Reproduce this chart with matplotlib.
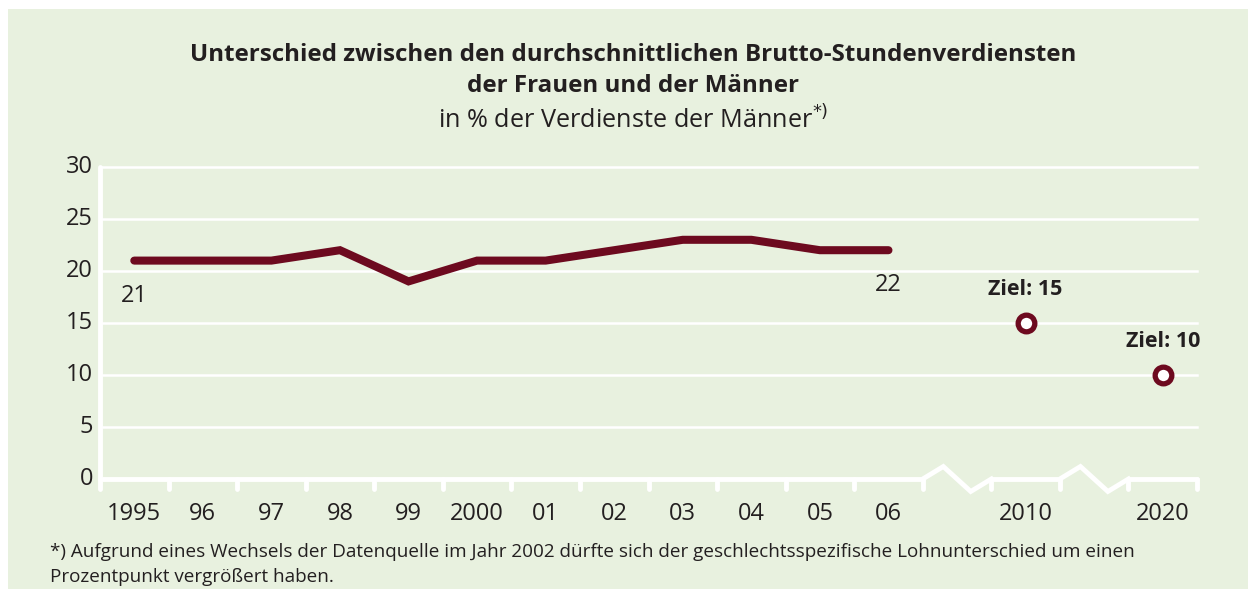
import numpy as np
import matplotlib.pyplot as plt
from matplotlib.patches import Rectangle

# data
years = ["1995", "96", "97", "98", "99", "2000", "01", "02", "03", "04", "05", "06"]
gap = [21, 21, 21, 22, 19, 21, 21, 22, 23, 23, 22, 22]
target_labels = ["2010", "2020"]
target_values = [15, 10]
target_pos = [13, 15]          # slots on the category axis (after the break)

red = "#6d0a1f"
bg = "#e8f1df"
txt = "#231f20"
plt.rcParams['font.family'] = ['Open Sans', 'DejaVu Sans']

fig = plt.figure(figsize=(12.48, 5.89), dpi=100)
fig.patches.append(Rectangle((8 / 1248, 0), 1, 1 - 9 / 589, transform=fig.transFigure,
                             facecolor=bg, edgecolor="none", zorder=-10))

ax = fig.add_axes([100 / 1248, 1 - 479 / 589, 1097 / 1248, 312 / 589])
ax.set_facecolor("none")
ax.set_xlim(-0.5, 15.5)
ax.set_ylim(0, 30)
for s in ax.spines.values():
    s.set_visible(False)
ax.set_xticks([])
ax.set_yticks([])

# gridlines + y axis
for v in range(5, 31, 5):
    ax.plot([-0.5, 15.5], [v, v], color="white", lw=1.8, clip_on=False, zorder=1)
    ax.text(-0.6, v, str(v), ha="right", va="center", fontsize=17, color=txt)
ax.text(-0.6, 0, "0", ha="right", va="center", fontsize=17, color=txt)
ax.plot([-0.5, -0.5], [0, 30], color="white", lw=3.5, solid_capstyle="round",
        clip_on=False, zorder=1)

# x axis with breaks
def seg(a, b):
    ax.plot([a, b], [0, 0], color="white", lw=3.5, clip_on=False, zorder=1,
            solid_capstyle="round")

def zig(a, b):
    w = b - a
    ax.plot([a, a + 0.3 * w, a + 0.7 * w, b], [0, 1.2, -1.2, 0], color="white",
            lw=3.5, clip_on=False, zorder=1, solid_joinstyle="miter")

seg(-0.5, 11.5)
zig(11.5, 12.5)
seg(12.5, 13.5)
zig(13.5, 14.5)
seg(14.5, 15.5)
for t in np.arange(-0.5, 16, 1.0):
    ax.plot([t, t], [0, -1.0], color="white", lw=3.5, clip_on=False, zorder=1,
            solid_capstyle="round")

xs = np.arange(len(years))
for x, lab in zip(xs, years):
    ax.text(x, -3.4, lab, ha="center", va="center", fontsize=17, color=txt)
for x, lab in zip(target_pos, target_labels):
    ax.text(x, -3.4, lab, ha="center", va="center", fontsize=17, color=txt)

# data line
ax.plot(xs, gap, color=red, lw=5.8, solid_capstyle="round", solid_joinstyle="miter",
        zorder=3, clip_on=False)
ax.text(xs[0], gap[0] - 3.4, str(gap[0]), ha="center", va="center", fontsize=17, color=txt)
ax.text(xs[-1], gap[-1] - 3.3, str(gap[-1]), ha="center", va="center", fontsize=17, color=txt)

# targets
ax.plot(target_pos, target_values, ls="none", marker="o", markersize=12,
        markerfacecolor="white", markeredgecolor=red, markeredgewidth=3.8, zorder=4)
for x, v in zip(target_pos, target_values):
    ax.text(x, v + 3.2, f"Ziel: {v}", ha="center", va="center", fontsize=15.5,
            fontweight="bold", color=txt)

# titles
fig.text(0.507, 1 - 55 / 589, "Unterschied zwischen den durchschnittlichen Brutto-Stundenverdiensten",
         ha="center", va="center", fontsize=17.4, fontweight="bold", color=txt)
fig.text(0.507, 1 - 86 / 589, "der Frauen und der Männer", ha="center", va="center",
         fontsize=17.4, fontweight="bold", color=txt)
fig.text(0.507, 1 - 120 / 589, r"in % der Verdienste der Männer$^{*)}$", ha="center",
         va="center", fontsize=18.2, color=txt)

fig.text(50 / 1248, 1 - 552 / 589,
         "*) Aufgrund eines Wechsels der Datenquelle im Jahr 2002 dürfte sich der geschlechtsspezifische Lohnunterschied um einen",
         ha="left", va="center", fontsize=13.6, color=txt)
fig.text(50 / 1248, 1 - 577 / 589, "Prozentpunkt vergrößert haben.", ha="left", va="center",
         fontsize=13.6, color=txt)

fig.savefig("out.png", dpi=100, facecolor="white")
